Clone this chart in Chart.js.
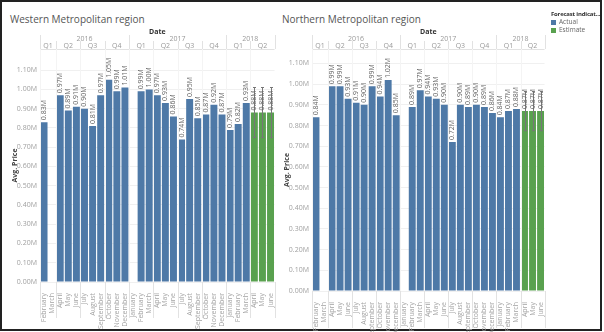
<!DOCTYPE html>
<html>
<head>
<meta charset="utf-8">
<script src="https://cdn.jsdelivr.net/npm/chart.js@4"></script>
<style>
  body { margin: 0; background: #fff; font-family: "Open Sans", sans-serif; }
  #frame { position: absolute; left: 0; top: 0; width: 602px; height: 331px; box-sizing: border-box; border: 2px solid #222; }
  .title { position: absolute; top: 12px; font-size: 10px; color: #555; white-space: nowrap; }
  #legend { position: absolute; left: 551px; top: 10px; font-size: 6.5px; color: #666; line-height: 8px; white-space: nowrap; z-index: 2; }
  #legend b { color: #333; font-size: 6px; letter-spacing: -0.2px; }
  .sw { display: inline-block; width: 5px; height: 5px; margin-right: 3px; vertical-align: middle; }
  canvas { position: absolute; top: 0; }
</style>
</head>
<body>
<div id="frame"></div>
<div class="title" style="left:10px">Western Metropolitan region</div>
<div class="title" style="left:282px">Northern Metropolitan region</div>
<div id="legend">
  <b>Forecast indicat...</b><br>
  <span class="sw" style="background:#4e79a7"></span>Actual<br>
  <span class="sw" style="background:#59a14f"></span>Estimate
</div>
<canvas id="west" width="282" height="332" style="left:0px"></canvas>
<canvas id="north" width="272" height="332" style="left:280px"></canvas>
<script>
const months = ['February','March','April','May','June','July','August','September','October','November','December',
  'January','February','March','April','May','June','July','August','September','October','November','December',
  'January','February','March','April','May','June'];
const years = ['2016','2016','2016','2016','2016','2016','2016','2016','2016','2016','2016',
  '2017','2017','2017','2017','2017','2017','2017','2017','2017','2017','2017','2017',
  '2018','2018','2018','2018','2018','2018'];

const westActual = [0.83,null,0.97,0.89,0.91,0.90,0.81,0.97,1.05,0.99,1.01,
  null,0.99,1.00,0.97,0.93,0.86,0.74,0.95,0.85,0.87,0.92,0.87,
  0.79,0.82,0.93,null,null,null];
const westEstimate = [null,null,null,null,null,null,null,null,null,null,null,
  null,null,null,null,null,null,null,null,null,null,null,null,
  null,null,null,0.88,0.88,0.88];
const westLow  = [null,null,null,null,null,null,null,null,null,null,null,
  null,null,null,null,null,null,null,null,null,null,null,null,
  null,null,null,0.75,0.75,0.75];
const westHigh = [null,null,null,null,null,null,null,null,null,null,null,
  null,null,null,null,null,null,null,null,null,null,null,null,
  null,null,null,1.01,1.01,1.01];

const northActual = [0.84,null,0.99,0.99,0.93,0.91,0.90,0.99,0.94,1.02,0.85,
  null,0.89,0.97,0.94,0.93,0.90,0.72,0.90,0.89,0.90,0.89,0.86,
  0.84,0.87,0.88,null,null,null];
const northEstimate = [null,null,null,null,null,null,null,null,null,null,null,
  null,null,null,null,null,null,null,null,null,null,null,null,
  null,null,null,0.87,0.87,0.87];
const northLow  = [null,null,null,null,null,null,null,null,null,null,null,
  null,null,null,null,null,null,null,null,null,null,null,null,
  null,null,null,0.775,0.775,0.775];
const northHigh = [null,null,null,null,null,null,null,null,null,null,null,
  null,null,null,null,null,null,null,null,null,null,null,null,
  null,null,null,0.965,0.965,0.965];

const yTicks = [0,0.1,0.2,0.3,0.4,0.5,0.6,0.7,0.8,0.9,1.0,1.1];

const FONT = '"Open Sans", sans-serif';
const monthQuarter = {January:1,February:1,March:1,April:2,May:2,June:2,July:3,August:3,September:3,October:4,November:4,December:4};

function groups(keys) {
  let out = [];
  keys.forEach((k, i) => {
    if (out.length && out[out.length-1].key === k) out[out.length-1].end = i;
    else out.push({key: k, start: i, end: i});
  });
  return out;
}

// draws value labels, error bars, Date/year/quarter header and separators
const decor = {
  id: 'decor',
  afterDatasetsDraw(chart, args, opts) {
    const ctx = chart.ctx;
    const y = chart.scales.y;
    ctx.save();
    // error bars for estimates
    const est = chart.getDatasetMeta(1);
    ctx.strokeStyle = '#777';
    ctx.lineWidth = 1;
    est.data.forEach((el, i) => {
      if (opts.low[i] == null) return;
      const x = Math.round(el.x) + 0.5;
      const y1 = y.getPixelForValue(opts.low[i]), y2 = y.getPixelForValue(opts.high[i]);
      ctx.beginPath();
      ctx.moveTo(x, y1); ctx.lineTo(x, y2);
      ctx.moveTo(x - 1.5, y1); ctx.lineTo(x + 1.5, y1);
      ctx.moveTo(x - 1.5, y2); ctx.lineTo(x + 1.5, y2);
      ctx.stroke();
    });
    // value labels
    ctx.font = '7px ' + FONT;
    ctx.fillStyle = '#666';
    ctx.textAlign = 'left';
    ctx.textBaseline = 'middle';
    chart.data.datasets.forEach((ds, d) => {
      chart.getDatasetMeta(d).data.forEach((el, i) => {
        const v = ds.data[i];
        if (v == null) return;
        ctx.save();
        ctx.translate(el.x, el.y - 2);
        ctx.rotate(-Math.PI / 2);
        ctx.fillText(v.toFixed(2) + 'M', 0, 0);
        ctx.restore();
      });
    });
    ctx.restore();
  },
  afterDraw(chart, args, opts) {
    const ctx = chart.ctx;
    const x = chart.scales.x;
    const area = chart.chartArea;
    const half = (x.getPixelForValue(1) - x.getPixelForValue(0)) / 2;
    const left = i => x.getPixelForValue(i) - half;
    const right = i => x.getPixelForValue(i) + half;
    ctx.save();
    ctx.strokeStyle = '#e2e2e2';
    ctx.lineWidth = 1;
    // Date
    ctx.font = 'bold 7px ' + FONT;
    ctx.fillStyle = '#333';
    ctx.textAlign = 'center';
    ctx.textBaseline = 'middle';
    ctx.fillText('Date', (area.left + area.right) / 2, 32);
    ctx.font = '7px ' + FONT;
    ctx.fillStyle = '#999';
    const yg = groups(years);
    yg.forEach(g => {
      ctx.fillText(g.key, (left(g.start) + right(g.end)) / 2, 39);
    });
    const qkeys = months.map((m, i) => years[i] + 'Q' + monthQuarter[m]);
    const qg = groups(qkeys);
    qg.forEach(g => {
      ctx.fillText('Q' + g.key.slice(5), (left(g.start) + right(g.end)) / 2, 45.5);
    });
    ctx.beginPath();
    // year separators
    yg.forEach(g => {
      const xl = Math.round(left(g.start)) + 0.5;
      ctx.moveTo(xl, 35); ctx.lineTo(xl, area.top);
    });
    const xr = Math.round(right(months.length - 1)) + 0.5;
    ctx.moveTo(xr, 35); ctx.lineTo(xr, area.top);
    // quarter separators in header and month label area
    qg.forEach(g => {
      const xl = Math.round(left(g.start)) + 0.5;
      ctx.moveTo(xl, 41); ctx.lineTo(xl, area.top);
      ctx.moveTo(xl, area.bottom); ctx.lineTo(xl, opts.labelBottom);
    });
    ctx.moveTo(xr, area.bottom); ctx.lineTo(xr, opts.labelBottom);
    ctx.moveTo(area.left, area.top + 0.5); ctx.lineTo(area.right, area.top + 0.5);
    ctx.stroke();
    // faint quarter lines through the pane
    ctx.strokeStyle = '#f4f4f4';
    ctx.beginPath();
    qg.forEach(g => {
      const xl = Math.round(left(g.start)) + 0.5;
      ctx.moveTo(xl, area.top); ctx.lineTo(xl, area.bottom);
    });
    ctx.stroke();
    ctx.restore();
  }
};

function makeChart(id, actual, estimate, low, high, cfg) {
  return new Chart(document.getElementById(id), {
    type: 'bar',
    data: {
      labels: months,
      datasets: [
        { label: 'Actual', data: actual, backgroundColor: '#4e79a7', grouped: false,
          barPercentage: 0.86, categoryPercentage: 1 },
        { label: 'Estimate', data: estimate, backgroundColor: '#59a14f', grouped: false,
          barPercentage: 0.86, categoryPercentage: 1 }
      ]
    },
    plugins: [decor],
    options: {
      responsive: false,
      devicePixelRatio: 1,
      animation: false,
      layout: { padding: { top: 49, right: cfg.padRight, left: 0, bottom: 0 } },
      scales: {
        x: {
          grid: { display: false },
          border: { display: false },
          ticks: {
            autoSkip: false, minRotation: 90, maxRotation: 90, padding: 3,
            color: '#a3a3a3', font: { family: FONT, size: 7 }
          },
          afterFit: s => { s.height = cfg.xHeight; }
        },
        y: {
          min: 0,
          max: cfg.yMax,
          grid: { color: '#f0f0f0', drawTicks: false },
          border: { display: false },
          ticks: {
            padding: 3, color: '#a0a0a0', font: { family: FONT, size: 7 },
            callback: v => v.toFixed(2) + 'M'
          },
          afterBuildTicks: s => { s.ticks = yTicks.map(v => ({ value: v })); },
          afterFit: s => { s.width = cfg.yWidth; },
          title: {
            display: true, text: 'Avg. Price', color: '#444',
            font: { family: FONT, size: 7, weight: 'bold' },
            padding: { top: cfg.titlePad, bottom: 0 }
          }
        }
      },
      plugins: {
        legend: { display: false },
        tooltip: { enabled: false },
        decor: { low: low, high: high, labelBottom: cfg.labelBottom }
      }
    }
  });
}

makeChart('west', westActual, westEstimate, westLow, westHigh,
  { yMax: 1.21, yWidth: 40, xHeight: 50, padRight: 4, titlePad: 11, labelBottom: 318 });
makeChart('north', northActual, northEstimate, northLow, northHigh,
  { yMax: 1.17, yWidth: 32, xHeight: 41, padRight: 3, titlePad: 3, labelBottom: 328 });
</script>
</body>
</html>
